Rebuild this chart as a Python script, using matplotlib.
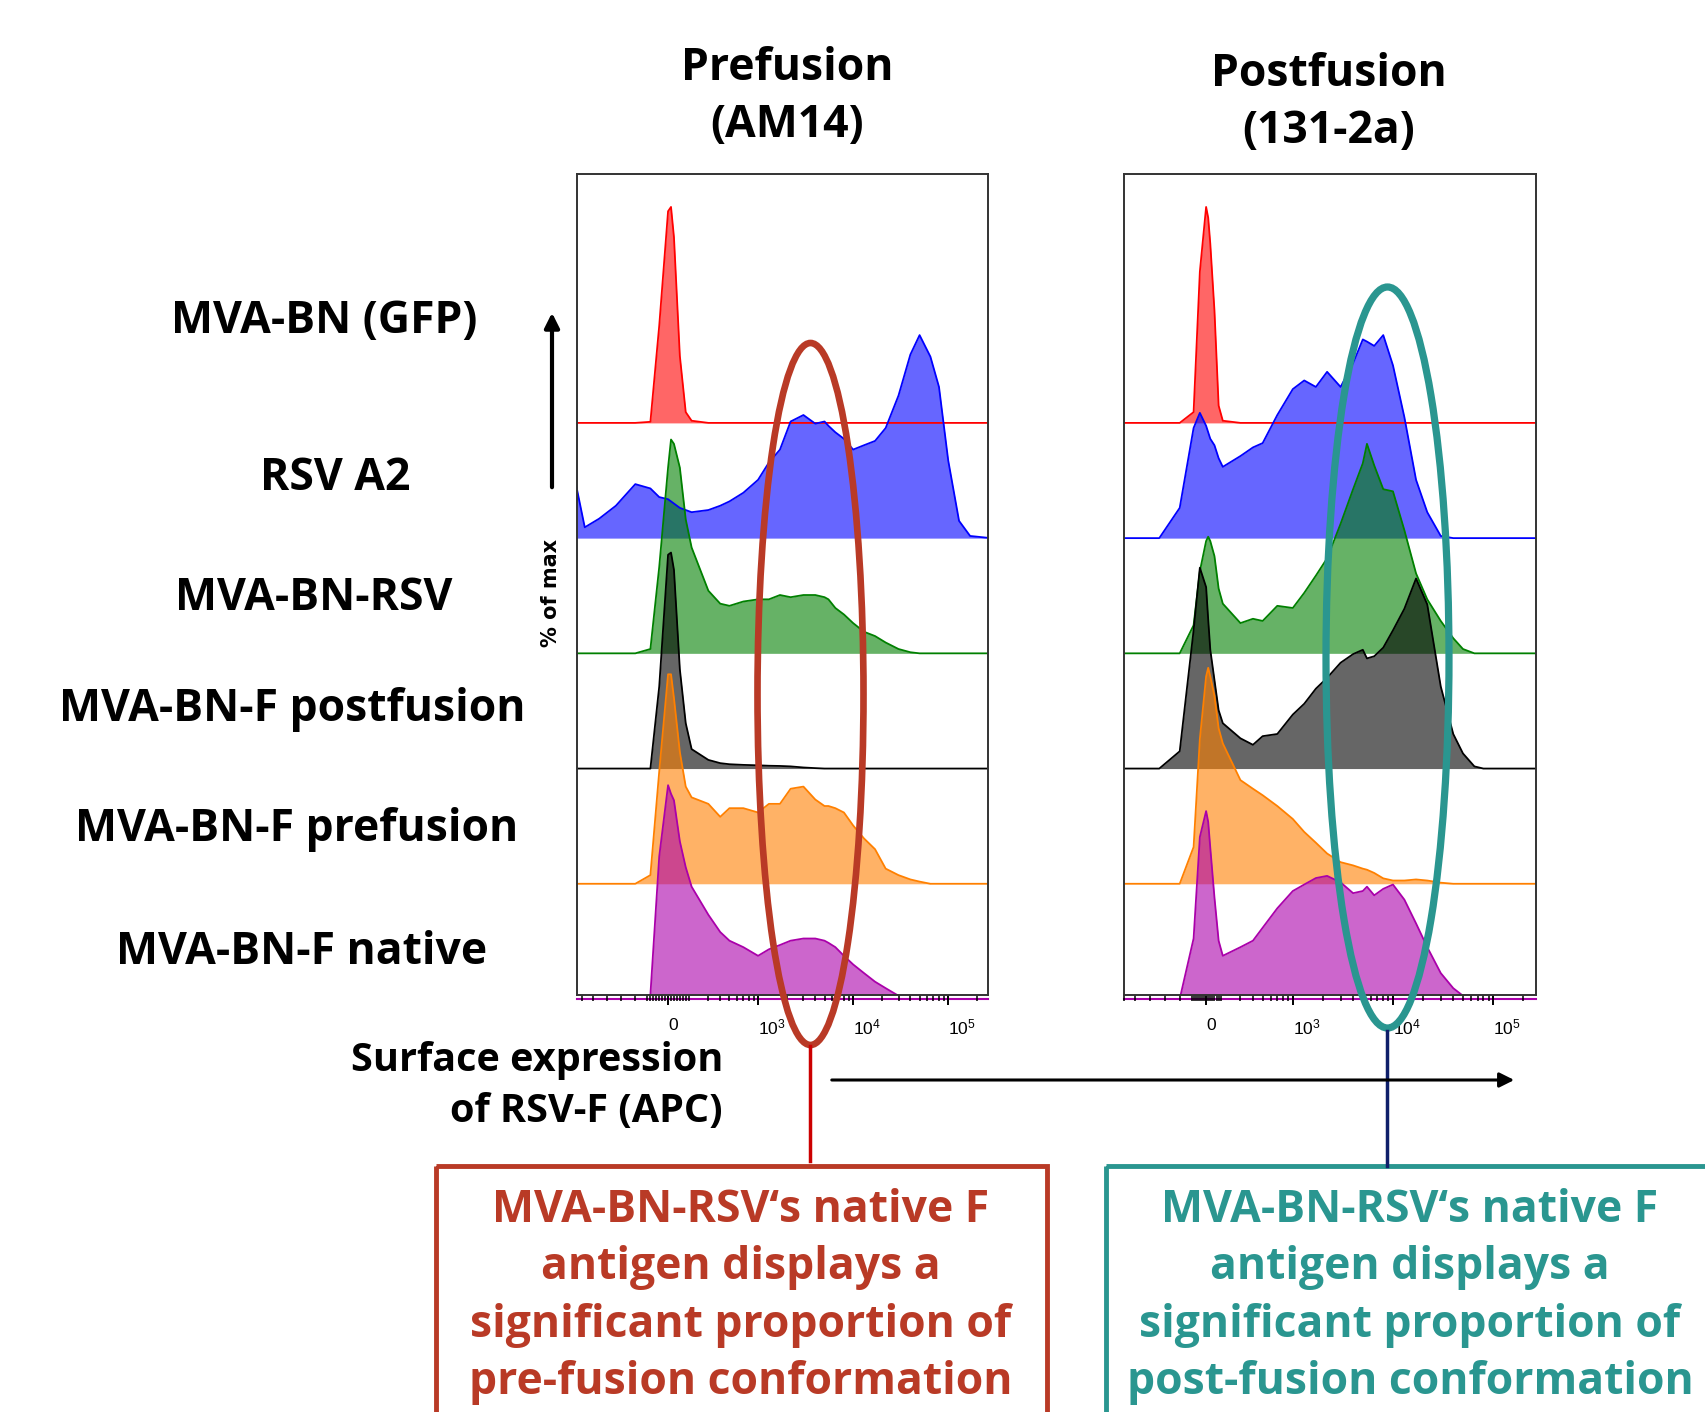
import matplotlib
matplotlib.use("Agg")
import matplotlib.pyplot as plt
from matplotlib.patches import Ellipse, Rectangle

# ---------------- data ----------------
# fluorescence (APC) grid shared by all histograms
x_grid = [-1100, -850, -600, -400, -250, -150, -75, 0, 25, 50, 100, 150, 200, 300,
          400, 500, 700, 1000, 1300, 1700, 2200, 3000, 4000, 5000, 5500, 6500, 8000,
          10000, 13000, 17000, 22000, 30000, 40000, 50000, 65000, 80000, 100000,
          130000, 170000, 280000]

samples = ["MVA-BN (GFP)", "RSV A2", "MVA-BN-RSV", "MVA-BN-F postfusion",
           "MVA-BN-F prefusion", "MVA-BN-F native"]
panel_titles = [["Prefusion", "(AM14)"], ["Postfusion", "(131-2a)"]]
tick_values = [0, 1e3, 1e4, 1e5]
tick_labels = ["0", r"$\mathregular{10^{3}}$", r"$\mathregular{10^{4}}$", r"$\mathregular{10^{5}}$"]

# % of max, prefusion antibody (AM14)
pre_gfp = [0, 0, 0, 0, 0, 0.5, 45, 98, 100, 86, 31, 5, 1, 0, 0, 0, 0, 0, 0, 0, 0, 0, 0, 0,
           0, 0, 0, 0, 0, 0, 0, 0, 0, 0, 0, 0, 0, 0, 0, 0]
pre_rsva2 = [29, 5, 9, 15, 25, 23, 19, 18, 17, 16, 14, 13, 12, 13, 15, 17, 21, 27, 35, 41,
             54, 57, 53, 54, 52, 49, 46, 41, 43, 45, 51, 66, 85, 94, 84, 70, 36, 8, 1, 0]
pre_mvarsv = [0, 0, 0, 0, 0, 2, 40, 86, 99, 97, 86, 62, 49, 29, 23, 22, 24, 25, 25, 27,
              26, 27, 27, 26, 25, 21, 18, 14, 10, 8, 5, 2, 0.5, 0, 0, 0, 0, 0, 0, 0]
pre_fpost = [0, 0, 0, 0, 0, 0, 38, 99, 100, 92, 46, 21, 9, 4, 2.5, 2, 1.7, 1.5, 1.3, 1.2,
             1, 0.5, 0.2, 0, 0, 0, 0, 0, 0, 0, 0, 0, 0, 0, 0, 0, 0, 0, 0, 0]
pre_fpre = [0, 0, 0, 0, 0, 4, 52, 97, 97, 86, 61, 45, 40, 37, 31, 35, 35, 33, 37, 37,
            44, 45, 39, 36, 36, 35, 33, 27, 21, 16, 7, 4, 2, 1, 0, 0, 0, 0, 0, 0]
pre_fnat = [0, 0, 0, 0, 0, 2, 66, 99, 95, 92, 73, 61, 52, 39, 31, 27, 24, 20, 23, 25,
            27, 28, 28, 27, 26, 24, 20, 16, 12, 8, 5, 1.5, 0.5, 0, 0, 0, 0, 0, 0, 0]

# % of max, postfusion antibody (131-2a)
post_gfp = [0, 0, 0, 0, 0, 5, 70, 100, 95, 83, 52, 8, 1, 0, 0, 0, 0, 0, 0, 0, 0, 0, 0, 0,
            0, 0, 0, 0, 0, 0, 0, 0, 0, 0, 0, 0, 0, 0, 0, 0]
post_rsva2 = [0, 0, 0, 0, 14, 51, 58, 52, 49, 46, 43, 37, 33, 38, 42, 44, 57, 69, 73, 70,
              77, 70, 81, 92, 91, 89, 94, 80, 56, 27, 12, 1, 0, 0, 0, 0, 0, 0, 0, 0]
post_mvarsv = [0, 0, 0, 0, 0, 13, 38, 52, 54, 52, 45, 30, 23, 14, 16, 15, 22, 21, 28, 36,
               44, 60, 76, 88, 97, 87, 76, 75, 57, 37, 25, 15, 7, 2, 0, 0, 0, 0, 0, 0]
post_fpost = [0, 0, 0, 0, 8, 64, 93, 84, 69, 55, 41, 27, 21, 14, 11, 15, 16, 25, 30, 37,
              42, 49, 53, 55, 51, 52, 56, 64, 74, 88, 76, 38, 16, 7, 1, 0, 0, 0, 0, 0]
post_fpre = [0, 0, 0, 0, 0, 17, 67, 96, 100, 96, 87, 72, 65, 48, 44, 41, 36, 30, 24, 19,
             14, 10, 8.5, 7, 6.5, 5, 2.5, 1.5, 1.5, 2, 1.5, 0.5, 0, 0, 0, 0, 0, 0, 0, 0]
post_fnat = [0, 0, 0, 0, 0, 28, 75, 87, 82, 70, 47, 27, 20, 24, 27, 33, 42, 50, 53, 56,
             57, 54, 49, 50, 52, 48, 51, 53, 46, 35, 24, 12, 5, 1.5, 0, 0, 0, 0, 0, 0]

pre_series = [pre_gfp, pre_rsva2, pre_mvarsv, pre_fpost, pre_fpre, pre_fnat]
post_series = [post_gfp, post_rsva2, post_mvarsv, post_fpost, post_fpre, post_fnat]

# ---------------- style ----------------
colors = ["#ff0000", "#0000ff", "#008000", "#000000", "#ff8000", "#aa00aa"]
FONT = "Open Sans"
RED = "#B93A26"
TEAL = "#2A9690"
W, H = 1705, 1412
STEP = 53.35  # vertical offset between stacked histograms (% of max units)

fig = plt.figure(figsize=(W / 100, H / 100), dpi=100)

panels = [
    dict(series=pre_series, rect=[577, 174, 411, 821], linscale=0.223, xlim=(-1026, 262144)),
    dict(series=post_series, rect=[1124, 174, 412, 821], linscale=0.150, xlim=(-871, 268000)),
]

minor_ticks = ([-900, -700, -500, -350, -250] + list(range(-175, 176, 25)) +
               [300, 400, 500, 600, 700, 800, 900] +
               [2000, 3000, 4000, 5000, 6000, 7000, 8000, 9000] +
               [20000, 30000, 40000, 50000, 60000, 70000, 80000, 90000, 200000])

for p in panels:
    px, py, pw, ph = p["rect"]
    ax = fig.add_axes([px / W, 1 - (py + ph) / H, pw / W, ph / H])
    ax.set_xscale("symlog", linthresh=200, linscale=p["linscale"])
    n = len(p["series"])
    for i, (vals, c) in enumerate(zip(p["series"], colors)):
        off = (n - 1 - i) * STEP
        top = [off + v for v in vals]
        ax.fill_between(x_grid, off, top, color=c, alpha=0.6, lw=0)
        ax.plot(x_grid, top, color=c, lw=1.3)
    ax.axhline(0, color=colors[-1], lw=1.5, clip_on=False, zorder=1)
    ax.set_xlim(*p["xlim"])
    ax.set_ylim(1.85, 382)
    ax.set_yticks([])
    ax.set_xticks(tick_values)
    ax.set_xticklabels(tick_labels, ha="left", fontsize=12.5, family="Liberation Sans")
    ax.set_xticks(minor_ticks, minor=True)
    ax.tick_params(axis="x", which="major", direction="out", length=7.5, width=1.4, pad=9)
    ax.tick_params(axis="x", which="minor", direction="out", length=4, width=1.1)
    for s in ax.spines.values():
        s.set_color("#333333")
        s.set_linewidth(1.4)

# ---------------- overlay with annotations ----------------
ov = fig.add_axes([0, 0, 1, 1], zorder=10)
ov.set_xlim(0, W)
ov.set_ylim(H, 0)
ov.axis("off")
ov.patch.set_alpha(0)

tkw = dict(family=FONT, weight="bold", color="black")
for (t1, t2), cx, y1 in zip(panel_titles, [787, 1329], [69, 74]):
    ov.text(cx, y1, t1, ha="center", va="center", fontsize=32, **tkw)
    ov.text(cx, y1 + 57, t2, ha="center", va="center", fontsize=32, **tkw)

label_pos = [(324, 322), (335, 479), (314, 598), (292, 709), (297, 830), (302, 953)]
for name, (lx, ly) in zip(samples, label_pos):
    ov.text(lx, ly, name, ha="center", va="center", fontsize=32, **tkw)

ov.annotate("", xy=(552, 310), xytext=(552, 490),
            arrowprops=dict(arrowstyle="-|>", lw=3, color="black", mutation_scale=22))
ov.text(551, 593, "% of max", rotation=90, ha="center", va="center", fontsize=15,
        family="DejaVu Sans", weight="bold")

ov.text(723, 1061, "Surface expression", ha="right", va="center", fontsize=28.5, **tkw)
ov.text(723, 1112, "of RSV-F (APC)", ha="right", va="center", fontsize=28.5, **tkw)
ov.annotate("", xy=(1517, 1080), xytext=(829, 1080),
            arrowprops=dict(arrowstyle="-|>", lw=2.2, color="black", mutation_scale=22))

ov.add_patch(Ellipse((810.5, 694), 106, 702, fill=False, ec=RED, lw=4.8))
ov.add_patch(Ellipse((1387.5, 657.5), 123, 741, fill=False, ec=TEAL, lw=5.2))
ov.plot([810, 810], [1046, 1161], color="#CC0000", lw=2.5)
ov.plot([1387, 1387], [1031, 1166], color="#0F1F6A", lw=2.5)

ov.add_patch(Rectangle((436, 1166), 611, 300, fill=False, ec=RED, lw=3.5, clip_on=False))
ov.add_patch(Rectangle((1106, 1166), 700, 300, fill=False, ec=TEAL, lw=3.5, clip_on=False))

box_red = ["MVA-BN-RSV\u2018s native F", "antigen displays a",
           "significant proportion of", "pre-fusion conformation"]
box_teal = ["MVA-BN-RSV\u2018s native F", "antigen displays a",
            "significant proportion of", "post-fusion conformation"]
for j, (a, b) in enumerate(zip(box_red, box_teal)):
    yy = 1210 + j * 57.5
    ov.text(741, yy, a, ha="center", va="center", fontsize=32, family=FONT, weight="bold", color=RED)
    ov.text(1410, yy, b, ha="center", va="center", fontsize=32, family=FONT, weight="bold", color=TEAL)

fig.savefig("out.png", dpi=100)
